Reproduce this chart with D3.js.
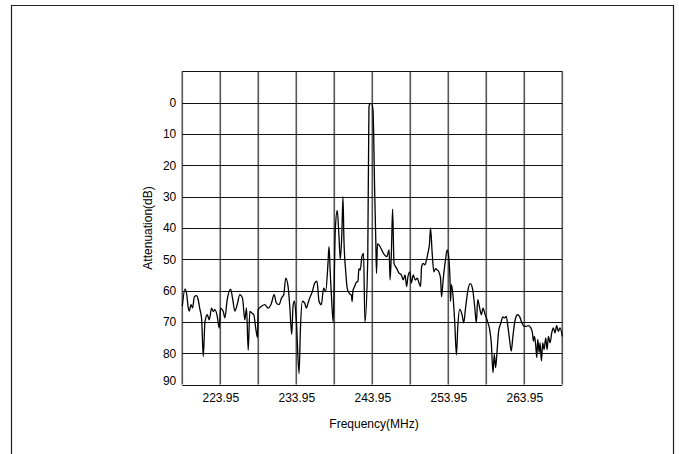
<!DOCTYPE html>
<html>
<head>
<meta charset="utf-8">
<script src="https://cdn.jsdelivr.net/npm/d3@7"></script>
<style>
  body { margin: 0; background: #fff; }
  text { font-family: "Liberation Sans", Arial, sans-serif; }
</style>
</head>
<body>
<div id="container"></div>
<script>
const width = 679,
  height = 454;

// frequency (MHz) and attenuation (dB)
const freq = [218.95, 219.30, 219.52, 219.74, 219.87, 220.09, 220.31, 220.53, 220.83, 221.05,
  221.27, 221.49, 221.71, 221.93, 222.23, 222.50, 222.80, 223.02, 223.24, 223.55,
  223.81, 223.98, 224.33, 224.55, 224.86, 225.30, 225.56, 225.86, 226.17, 226.52,
  226.87, 227.18, 227.40, 227.62, 227.84, 228.06, 228.36, 228.58, 228.84, 228.93,
  229.37, 229.80, 230.24, 230.68, 231.03, 231.33, 231.68, 232.00, 232.30, 232.56,
  232.87, 233.09, 233.35, 233.52, 233.70, 233.96, 234.31, 234.49, 234.75, 235.06,
  235.27, 235.49, 235.71, 236.06, 236.37, 236.67, 236.94, 237.24, 237.55, 237.81,
  238.12, 238.25, 238.42, 238.60, 238.80, 239.08, 239.34, 239.55, 239.74, 239.96,
  240.09, 240.22, 240.44, 240.66, 240.96, 241.20, 241.30, 241.40, 241.62, 241.84,
  242.06, 242.19, 242.37, 242.58, 242.80, 242.98, 243.35, 243.51, 243.64, 243.86,
  244.04, 244.26, 244.41, 244.50, 244.63, 244.98, 245.42, 245.85, 246.16, 246.29,
  246.46, 246.62, 246.81, 247.16, 247.47, 247.77, 248.03, 248.25, 248.47, 248.64,
  248.90, 249.08, 249.34, 249.60, 249.87, 250.10, 250.30, 250.44, 250.65, 250.87,
  251.09, 251.26, 251.48, 251.61, 251.83, 252.05, 252.27, 252.49, 252.70, 252.93,
  253.06, 253.27, 253.58, 253.80, 254.00, 254.20, 254.24, 254.36, 254.58, 254.80,
  255.02, 255.20, 255.46, 255.76, 255.98, 256.20, 256.50, 256.85, 257.16, 257.42,
  257.64, 257.82, 258.08, 258.30, 258.52, 258.73, 259.04, 259.39, 259.61, 259.83,
  260.00, 260.18, 260.35, 260.57, 260.87, 261.13, 261.35, 261.57, 261.79, 262.01,
  262.23, 262.45, 262.75, 263.06, 263.32, 263.63, 263.93, 264.19, 264.50, 264.81,
  265.02, 265.15, 265.29, 265.46, 265.59, 265.72, 265.90, 266.03, 266.20, 266.38,
  266.55, 266.77, 266.95, 267.12, 267.34, 267.56, 267.77, 267.99, 268.21, 268.43,
  268.65, 268.95];

const atten = [65, 59.5, 61, 65.6, 66.5, 64.5, 65.5, 62, 61.6, 63,
  66, 69, 81, 70, 67.7, 69.3, 65.6, 66.6, 66.1, 68.2,
  72, 65.6, 66.6, 68.7, 62.9, 59.5, 62.4, 66.5, 64.5, 61.3,
  62.4, 69.3, 65.5, 79, 66.6, 67.1, 67.7, 71.4, 75, 66.1,
  65, 64.5, 65.6, 64, 61.3, 64, 64.5, 62.4, 61.3, 56,
  58.7, 65, 74, 65, 63.4, 69.8, 86.5, 72.4, 63.4, 64,
  65.6, 64, 62.4, 60.3, 57.6, 57, 63.4, 64.5, 59.2, 60.3,
  51.3, 46, 54.4, 62.9, 70, 40.7, 34.4, 42, 50, 40.7,
  30, 44, 53.5, 59.4, 61, 61.5, 63.5, 60, 58.7, 57.4,
  57, 53, 53.4, 49.2, 48.1, 70, 50, 1.4, 0.3, 0.3,
  2.4, 28, 44, 54.5, 45, 46, 48.1, 49.2, 47, 56.6,
  48, 34, 51.3, 52.9, 54.4, 55, 56.6, 55, 58.7, 55.5,
  54, 57.6, 55, 56.6, 56, 57.6, 58.7, 52.3, 51.3, 51.8,
  50.2, 48.1, 44.9, 40, 48.1, 54, 53, 53.4, 54, 56,
  62, 56.6, 50.2, 47, 49.2, 58.7, 63.4, 58.1, 61.9, 70.3,
  80.5, 71.4, 66, 67.7, 70.3, 66, 60.3, 57.8, 59.7, 65,
  70.3, 62.9, 65.6, 67.7, 65.6, 67.1, 69.3, 72.4, 76.7, 86.2,
  80.4, 84.6, 79.8, 73, 70.3, 68.4, 68.7, 68.2, 71.4, 75.6,
  79.3, 74.6, 69.3, 67.7, 68.2, 70.3, 71.4, 71.4, 71.2, 71.9,
  73.5, 76.1, 74.6, 77.7, 81.4, 75.6, 79.8, 76.7, 82.5, 76.7,
  78.8, 75.1, 78.8, 74.6, 76.7, 73.5, 71.9, 73.5, 71.2, 73,
  71.9, 74.6];

const xTicks = [223.95, 233.95, 243.95, 253.95, 263.95];
const yTicks = [0, 10, 20, 30, 40, 50, 60, 70, 80, 90];

const data = freq.map((f, i) => ({ f: f, a: atten[i] }));

const svg = d3.select("#container").append("svg")
  .attr("width", width)
  .attr("height", height);

// outer frame, open at the bottom
svg.append("path")
  .attr("d", "M11.5,454V5.5H673.5V454")
  .attr("fill", "none")
  .attr("stroke", "#222")
  .attr("stroke-width", 1.2);

const xScale = d3.scaleLinear()
  .domain([218.95, 268.95])
  .range([182.3, 562.3]);

const yScale = d3.scaleLinear()
  .domain([-10, 90])
  .range([71.3, 384.6]);

// vertical grid every 5 MHz
const xGrid = d3.range(0, 11).map(i => 218.95 + i * 5);
svg.append("g")
  .selectAll("line")
  .data(xGrid)
  .join("line")
  .attr("x1", d => xScale(d))
  .attr("x2", d => xScale(d))
  .attr("y1", yScale(-10))
  .attr("y2", yScale(90))
  .attr("stroke", "#555")
  .attr("stroke-width", 1.6);

// horizontal grid every 10 dB
const yGrid = d3.range(-10, 100, 10);
svg.append("g")
  .selectAll("line")
  .data(yGrid)
  .join("line")
  .attr("x1", xScale.range()[0])
  .attr("x2", xScale.range()[1])
  .attr("y1", d => Math.round(yScale(d)) + 0.5)
  .attr("y2", d => Math.round(yScale(d)) + 0.5)
  .attr("stroke", "#111")
  .attr("stroke-width", 1.2);

const xAxis = d3.axisBottom(xScale)
  .tickValues(xTicks)
  .tickSize(0)
  .tickPadding(9)
  .tickFormat(d3.format(".2f"));

const yAxis = d3.axisLeft(yScale)
  .tickValues(yTicks)
  .tickSize(0)
  .tickPadding(6)
  .tickFormat(d3.format("d"));

svg.append("g")
  .attr("transform", `translate(0,${yScale(90)})`)
  .call(xAxis)
  .call(g => g.select(".domain").remove())
  .selectAll("text")
  .style("font-size", "12px")
  .attr("fill", "#000");

svg.append("g")
  .attr("transform", `translate(${xScale.range()[0]},0)`)
  .call(yAxis)
  .call(g => g.select(".domain").remove())
  .selectAll("text")
  .style("font-size", "12px")
  .attr("fill", "#000")
  .attr("dy", d => d === 90 ? "-0.05em" : "0.32em");

// trace
const line = d3.line()
  .x(d => xScale(d.f))
  .y(d => yScale(d.a))
  .curve(d3.curveMonotoneX);

svg.append("path")
  .datum(data)
  .attr("d", line)
  .attr("fill", "none")
  .attr("stroke", "#000")
  .attr("stroke-width", 1.3)
  .attr("stroke-linejoin", "round");

svg.append("text")
  .attr("x", 374)
  .attr("y", 428)
  .attr("text-anchor", "middle")
  .style("font-size", "12px")
  .text("Frequency(MHz)");

svg.append("text")
  .attr("transform", `translate(152,${(yScale(-10) + yScale(90)) / 2}) rotate(-90)`)
  .attr("text-anchor", "middle")
  .style("font-size", "12px")
  .text("Attenuation(dB)");
</script>
</body>
</html>
